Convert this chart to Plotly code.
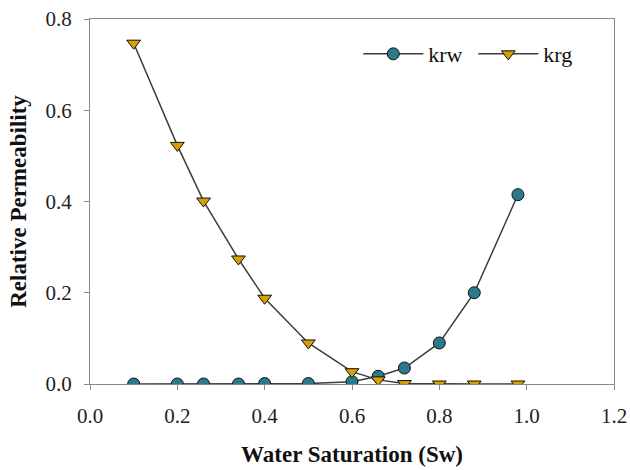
import plotly.graph_objects as go

# water saturation values (shared by both curves)
sw = [0.10, 0.20, 0.26, 0.34, 0.40, 0.50, 0.60, 0.66, 0.72, 0.80, 0.88, 0.98]
krw = [0.0, 0.0, 0.0, 0.0, 0.001, 0.001, 0.005, 0.017, 0.035, 0.09, 0.20, 0.415]
krg = [0.747, 0.523, 0.401, 0.274, 0.188, 0.09, 0.027, 0.009, 0.001, 0.0, 0.0, 0.0]

x_ticks = [0.0, 0.2, 0.4, 0.6, 0.8, 1.0, 1.2]
y_ticks = [0.0, 0.2, 0.4, 0.6, 0.8]

serif = "Liberation Serif"
line_col = "#3c3c3c"

fig = go.Figure()
fig.add_trace(
    go.Scatter(
        x=sw,
        y=krw,
        mode="lines+markers",
        name="krw",
        line=dict(color=line_col, width=1.5),
        marker=dict(symbol="circle", size=12, color="#2b7a8b",
                    line=dict(color="#111111", width=1)),
    )
)
fig.add_trace(
    go.Scatter(
        x=sw,
        y=krg,
        mode="lines+markers",
        name="krg",
        line=dict(color=line_col, width=1.5),
        marker=dict(symbol="triangle-down", size=12, color="#d6a000",
                    line=dict(color="#111111", width=1)),
    )
)

axis_common = dict(
    showline=True,
    linecolor="#8a8a8a",
    linewidth=1,
    mirror=True,
    showgrid=False,
    zeroline=False,
    automargin=False,
    ticks="outside",
    ticklen=5,
    tickcolor="#8a8a8a",
    ticklabeloverflow="allow",
    tickfont=dict(family=serif, size=21, color="#222222"),
)

fig.update_layout(
    width=630,
    height=470,
    margin=dict(l=90, r=16, t=19, b=86),
    plot_bgcolor="white",
    paper_bgcolor="white",
    xaxis=dict(
        axis_common,
        range=[0, 1.2],
        tickvals=x_ticks,
        tickformat=".1f",
        ticklabelstandoff=8,
        title=dict(text="<b>Water Saturation (Sw)</b>",
                   font=dict(family=serif, size=23, color="#111111"),
                   standoff=18),
    ),
    yaxis=dict(
        axis_common,
        range=[0, 0.8],
        tickvals=y_ticks,
        tickformat=".1f",
        ticklabelstandoff=8,
        title=dict(text="<b>Relative Permeability</b>",
                   font=dict(family=serif, size=23, color="#111111"),
                   standoff=12),
    ),
    legend=dict(
        orientation="h",
        x=0.512,
        y=0.904,
        xanchor="left",
        yanchor="middle",
        bgcolor="rgba(0,0,0,0)",
        font=dict(family=serif, size=22, color="#111111"),
        itemwidth=60,
        entrywidth=40,
    ),
)

# drop the default 8px page margin so the figure sits at the window corner
fig.write_html(
    "out.html",
    config={"displayModeBar": False},
    post_script="document.body.style.margin='0px';",
)
